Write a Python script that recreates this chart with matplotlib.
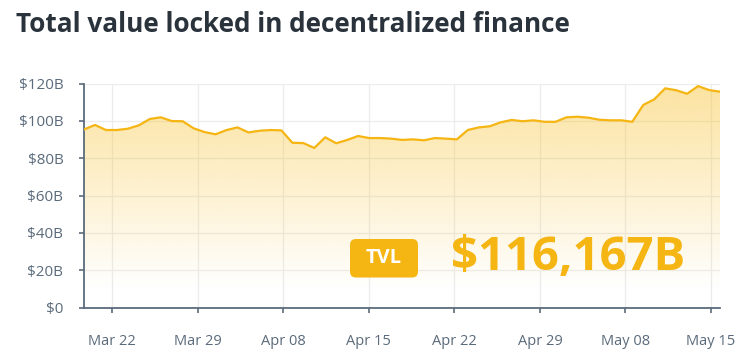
import numpy as np
import matplotlib
matplotlib.use("Agg")
import matplotlib.pyplot as plt
from matplotlib.patches import FancyBboxPatch
from matplotlib.colors import to_rgb

# ---- data ----
tvl_values = [95.4, 97.8, 95.1, 95.1, 95.8, 97.6, 101.0, 101.9, 99.9, 99.8,
              96.0, 94.0, 92.8, 95.1, 96.5, 93.8, 94.7, 95.1, 94.9, 88.3,
              88.1, 85.5, 91.2, 88.0, 89.8, 91.9, 90.8, 90.8, 90.5, 89.8,
              90.1, 89.6, 90.8, 90.5, 90.1, 95.1, 96.5, 97.1, 99.2, 100.5,
              99.8, 100.3, 99.5, 99.5, 101.9, 102.2, 101.7, 100.6, 100.3, 100.3,
              99.5, 108.5, 111.5, 117.4, 116.4, 114.5, 118.6, 116.5, 115.6]
tick_labels = ["Mar 22", "Mar 29", "Apr 08", "Apr 15", "Apr 22", "Apr 29", "May 08", "May 15"]
y_ticks = [0, 20, 40, 60, 80, 100, 120]
y_tick_labels = ["$0", "$20B", "$40B", "$60B", "$80B", "$100B", "$120B"]
title = "Total value locked in decentralized finance"
badge_text = "TVL"
big_value = "$116,167B"

plt.rcParams['font.family'] = ['Open Sans', 'DejaVu Sans']

gold = "#f5b512"
axis_col = "#5b6b7b"
text_col = "#5b6b7b"

fig = plt.figure(figsize=(7.43, 3.62), dpi=100)
ax = fig.add_axes([84/743, 54.3/362, (720-84)/743, (307.7-83.5)/362])

x = np.arange(len(tvl_values))
y = np.array(tvl_values)

# gradient fill
poly = ax.fill_between(x, y, 0, facecolor="none", edgecolor="none")
ny = 256
grad = np.zeros((ny, 2, 4))
r, g, b = to_rgb("#f8c232")
t = np.linspace(0, 1, ny)[:, None]  # 0 bottom -> 1 top
alpha = np.clip((t - 0.08) / 0.92, 0, 1) * 0.47
grad[..., 0] = r
grad[..., 1] = g
grad[..., 2] = b
grad[..., 3] = alpha
im = ax.imshow(grad, extent=[x[0], x[-1], 0, 120], origin="lower",
               aspect="auto", zorder=1, interpolation="bilinear")
path = poly.get_paths()[0]
im.set_clip_path(path, transform=ax.transData)

ax.plot(x, y, color=gold, lw=1.6, zorder=3, solid_joinstyle="round")

ax.set_xlim(x[0], x[-1])
ax.set_ylim(0, 120)

tick_pos = 2.58 + np.arange(len(tick_labels)) * 7.8
ax.set_xticks(tick_pos)
ax.set_xticklabels(tick_labels)
ax.set_yticks(y_ticks)
ax.set_yticklabels(y_tick_labels)

ax.grid(True, color="#ececec", lw=0.9, zorder=0)
ax.set_axisbelow(True)
for s in ["top", "right"]:
    ax.spines[s].set_visible(False)
for s in ["left", "bottom"]:
    ax.spines[s].set_color(axis_col)
    ax.spines[s].set_linewidth(1.3)
ax.tick_params(axis="both", colors=axis_col, labelcolor=text_col,
               length=3.8, width=1.2)
ax.tick_params(axis="x", pad=15, labelsize=10.5)
ax.tick_params(axis="y", pad=11, labelsize=11)

# title
fig.text(16/743, 1 - 25/362, title, fontsize=18.8, fontweight="bold",
         color="#2a333c", va="center", ha="left")

# badge
bx0, by0, bw, bh = 350, 239, 68, 38.5
badge = FancyBboxPatch((bx0/743, 1 - (by0+bh)/362), bw/743, bh/362,
                       boxstyle="round,pad=0,rounding_size=0.008",
                       transform=fig.transFigure, facecolor=gold,
                       edgecolor="none", zorder=5, mutation_aspect=743/362)
fig.patches.append(badge)
fig.text((bx0 + bw/2)/743, 1 - (by0 + bh/2)/362, badge_text, color="white",
         fontsize=14.5, fontweight="bold", ha="center", va="center", zorder=6)

fig.text(451/743, 1 - 257/362, big_value, color=gold, fontsize=34,
         fontweight="bold", ha="left", va="center", zorder=6)

fig.savefig("out.png", dpi=100, facecolor="white")
